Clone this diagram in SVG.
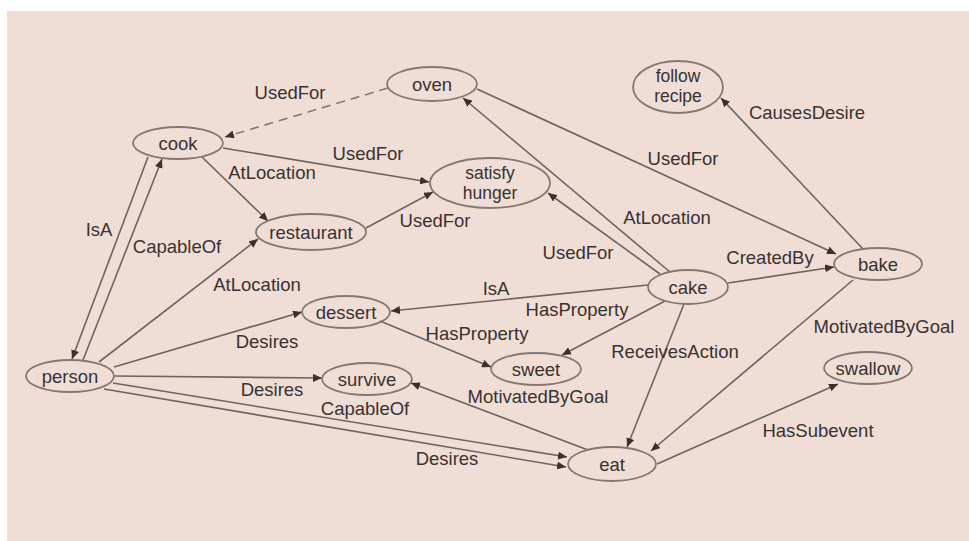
<svg xmlns="http://www.w3.org/2000/svg" width="969" height="541" viewBox="0 0 969 541">
  <defs>
    <marker id="arr" markerUnits="userSpaceOnUse" markerWidth="10" markerHeight="8" refX="9" refY="4" orient="auto">
      <path d="M0,0 L9,4 L0,8 z" fill="#3a302d"/>
    </marker>
    <style>
      .bg { fill: #efddd6; }
      .node ellipse { fill: none; stroke: #857873; stroke-width: 1.8; }
      .node text { font-family: "Liberation Sans", "DejaVu Sans", sans-serif; font-size: 18.5px; fill: #3a3230; text-anchor: middle; }
      .node text.two { font-size: 17.5px; }
      .edges line { stroke: #6f6360; stroke-width: 1.6; marker-end: url(#arr); }
      .edges line.dash { stroke: #857873; stroke-dasharray: 9 6; }
      .lbl text { font-family: "Liberation Sans", "DejaVu Sans", sans-serif; font-size: 18.5px; fill: #3a3230; text-anchor: middle; }
    </style>
  </defs>

  <rect class="bg" x="7" y="11" width="962" height="530"/>

  <!-- connectors -->
  <g id="edges" class="edges">
    <line class="dash" x1="388" y1="88" x2="225" y2="137"/>
    <line x1="223" y1="148" x2="429" y2="182"/>
    <line x1="202" y1="157" x2="268" y2="221"/>
    <line x1="366" y1="228" x2="433" y2="192"/>
    <line x1="83" y1="360" x2="162" y2="159"/>
    <line x1="148" y1="157" x2="72" y2="359"/>
    <line x1="99" y1="362" x2="258" y2="239"/>
    <line x1="114" y1="367" x2="302" y2="312"/>
    <line x1="115" y1="376" x2="322" y2="378"/>
    <line x1="113" y1="383" x2="567" y2="457"/>
    <line x1="104" y1="389" x2="566" y2="467"/>
    <line x1="588" y1="450" x2="411" y2="383"/>
    <line x1="380" y1="321" x2="491" y2="367"/>
    <line x1="648" y1="285" x2="391" y2="311"/>
    <line x1="665" y1="301" x2="562" y2="355"/>
    <line x1="684" y1="304" x2="627" y2="447"/>
    <line x1="853" y1="280" x2="651" y2="451"/>
    <line x1="657" y1="464" x2="838" y2="384"/>
    <line x1="728" y1="283" x2="834" y2="267"/>
    <line x1="863" y1="249" x2="721" y2="98"/>
    <line x1="477" y1="89" x2="836" y2="254"/>
    <line x1="670" y1="272" x2="463" y2="98"/>
    <line x1="660" y1="274" x2="548" y2="193"/>
  </g>

  <!-- connector labels -->
  <g id="edge-labels" class="lbl">
    <text x="290" y="99">UsedFor</text>
    <text x="368" y="160">UsedFor</text>
    <text x="272" y="179">AtLocation</text>
    <text x="435" y="227">UsedFor</text>
    <text x="99" y="236">IsA</text>
    <text x="177" y="253">CapableOf</text>
    <text x="257" y="291">AtLocation</text>
    <text x="267" y="348">Desires</text>
    <text x="272" y="396">Desires</text>
    <text x="365" y="415">CapableOf</text>
    <text x="447" y="465">Desires</text>
    <text x="538" y="403">MotivatedByGoal</text>
    <text x="477" y="340">HasProperty</text>
    <text x="496" y="295">IsA</text>
    <text x="577" y="316">HasProperty</text>
    <text x="675" y="358">ReceivesAction</text>
    <text x="578" y="259">UsedFor</text>
    <text x="667" y="224">AtLocation</text>
    <text x="683" y="165">UsedFor</text>
    <text x="770" y="264">CreatedBy</text>
    <text x="807" y="119">CausesDesire</text>
    <text x="884" y="333">MotivatedByGoal</text>
    <text x="818" y="437">HasSubevent</text>
  </g>

  <!-- nodes -->
  <g id="oven" class="node"><ellipse cx="432" cy="84" rx="45" ry="17"/><text x="432" y="91">oven</text></g>
  <g id="follow-recipe" class="node"><ellipse cx="678" cy="87" rx="45" ry="26"/><text class="two" x="678" y="82">follow</text><text class="two" x="678" y="102">recipe</text></g>
  <g id="cook" class="node"><ellipse cx="178" cy="143" rx="45" ry="16"/><text x="178" y="150">cook</text></g>
  <g id="restaurant" class="node"><ellipse cx="311" cy="232" rx="55" ry="18"/><text x="311" y="239">restaurant</text></g>
  <g id="satisfy-hunger" class="node"><ellipse cx="490" cy="183" rx="60" ry="25"/><text class="two" x="490" y="179">satisfy</text><text class="two" x="490" y="199">hunger</text></g>
  <g id="bake" class="node"><ellipse cx="878" cy="264" rx="44" ry="16"/><text x="878" y="271">bake</text></g>
  <g id="cake" class="node"><ellipse cx="688" cy="287" rx="40" ry="17"/><text x="688" y="294">cake</text></g>
  <g id="dessert" class="node"><ellipse cx="346" cy="312" rx="44" ry="16"/><text x="346" y="319">dessert</text></g>
  <g id="sweet" class="node"><ellipse cx="536" cy="369" rx="45" ry="16"/><text x="536" y="376">sweet</text></g>
  <g id="person" class="node"><ellipse cx="70" cy="376" rx="44" ry="16"/><text x="70" y="383">person</text></g>
  <g id="survive" class="node"><ellipse cx="367" cy="379" rx="45" ry="16"/><text x="367" y="386">survive</text></g>
  <g id="eat" class="node"><ellipse cx="612" cy="464" rx="44" ry="17"/><text x="612" y="471">eat</text></g>
  <g id="swallow" class="node"><ellipse cx="868" cy="368" rx="44" ry="16"/><text x="868" y="375">swallow</text></g>
</svg>
